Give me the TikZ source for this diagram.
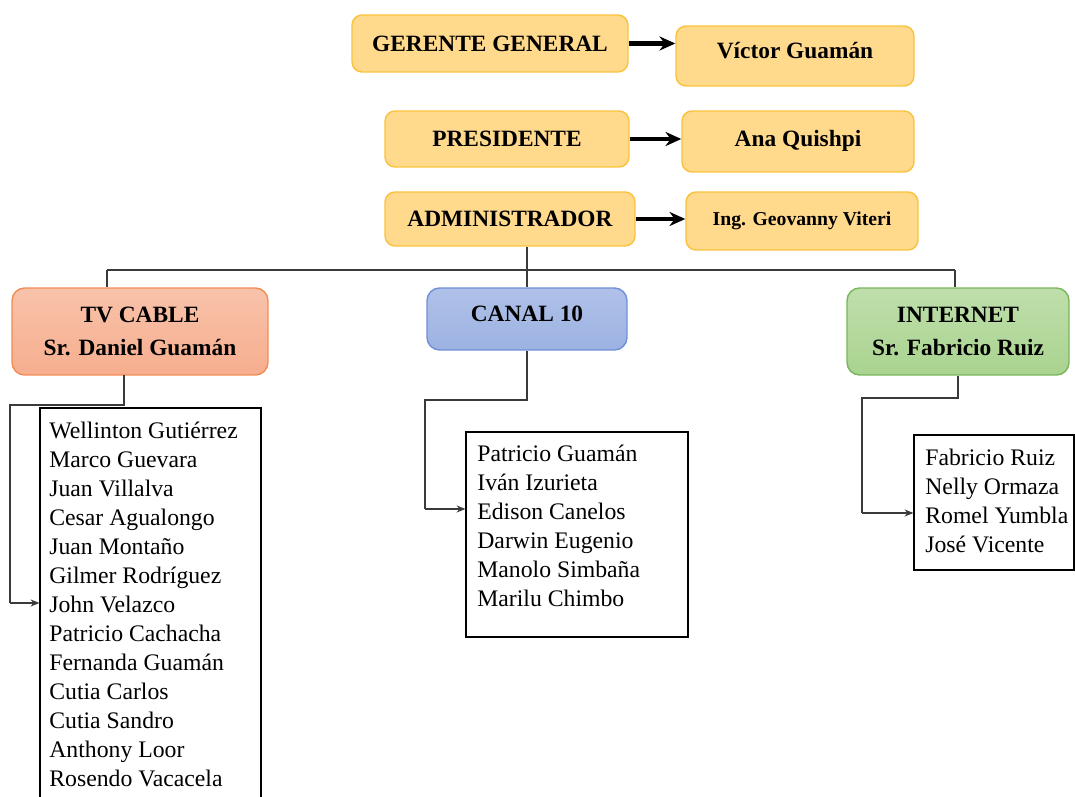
\documentclass[tikz,border=0pt]{standalone}
\usepackage{fontspec}
\setmainfont{Liberation Serif}
\usepackage{xcolor}
\definecolor{goldfill}{HTML}{FFD98C}
\definecolor{goldedge}{HTML}{F9C23C}
\definecolor{salmonfill}{HTML}{F6AE8E}
\definecolor{salmonedge}{HTML}{F28C55}
\definecolor{bluefill}{HTML}{9CB2E2}
\definecolor{blueedge}{HTML}{6F8FD8}
\definecolor{greenfill}{HTML}{A9D38F}
\definecolor{greenedge}{HTML}{78B65A}
\definecolor{linkgray}{HTML}{3A3A3A}
\usetikzlibrary{arrows.meta,positioning}
\tikzset{
  rolebox/.style={rectangle, rounded corners=0.2cm, draw=goldedge, fill=goldfill, line width=0.8pt,
    font=\fontsize{13.3}{16}\selectfont\bfseries, align=center, inner sep=0pt},
  areabox/.style={rectangle, rounded corners=0.25cm, line width=0.8pt,
    font=\fontsize{13.3}{18.7}\selectfont\bfseries, align=center, inner sep=0pt},
  listbox/.style={rectangle, draw=black, line width=0.7pt, inner sep=0pt},
  listtext/.style={font=\fontsize{13.5}{16.5}\selectfont, align=left, inner sep=0pt, anchor=north west},
  bigarrow/.style={-{Stealth[length=9pt,width=8pt]}, line width=2.4pt},
  link/.style={draw=linkgray, line width=0.8pt},
  linkarrow/.style={link, -{Stealth[length=5pt,width=4pt]}}
}
\begin{document}
\begin{tikzpicture}[x=0.02cm, y=-0.02cm]
  \useasboundingbox (0,0) rectangle (1075,797);
  % Direction
  \node[rolebox, minimum width=5.52cm, minimum height=1.14cm] (gg) at (490,43.5) {GERENTE GENERAL};
  \node[rolebox, minimum width=4.76cm, minimum height=1.2cm] (vg) at (795,56) {\raisebox{6pt}{Víctor Guamán}};
  \node[rolebox, minimum width=4.88cm, minimum height=1.12cm] (pr) at (507,139) {PRESIDENTE};
  \node[rolebox, minimum width=4.64cm, minimum height=1.22cm] (aq) at (798,141.5) {\raisebox{3pt}{Ana Quishpi}};
  \node[rolebox, minimum width=5.0cm, minimum height=1.08cm] (adm) at (510,219) {ADMINISTRADOR};
  \node[rolebox, minimum width=4.64cm, minimum height=1.16cm, font=\fontsize{11.2}{14}\selectfont\bfseries] (ig) at (802,221) {Ing. Geovanny Viteri};
  \draw[bigarrow] (gg.east) -- (gg.east -| vg.west);
  \draw[bigarrow] (pr.east) -- (pr.east -| aq.west);
  \draw[bigarrow] (adm.east) -- (adm.east -| ig.west);

  % Areas
  \node[areabox, draw=salmonedge, top color=salmonfill!75!white, bottom color=salmonfill, minimum width=5.12cm, minimum height=1.74cm] (tv) at (140,331.5) {TV CABLE\\Sr. Daniel Guamán};
  \node[areabox, draw=blueedge, top color=bluefill!80!white, bottom color=bluefill, minimum width=4.0cm, minimum height=1.24cm] (c10) at (527,319) {\raisebox{6pt}{CANAL 10}};
  \node[areabox, draw=greenedge, top color=greenfill!75!white, bottom color=greenfill, minimum width=4.44cm, minimum height=1.74cm] (inet) at (958,331.5) {INTERNET\\Sr. Fabricio Ruiz};

  \coordinate (busL) at (107,270);
  \coordinate (busR) at (955,270);
  \draw[link] (busL) -- (busR);
  \draw[link] (c10.north |- adm.south) -- (c10.north);
  \draw[link] (busL) -- (busL |- tv.north);
  \draw[link] (busR) -- (busR |- inet.north);

  % Staff lists
  \node[listbox, minimum width=4.42cm, minimum height=8.04cm] (tvL) at (150.5,609) {};
  \node[listtext] (tvT) at (49,422) {Wellinton Gutiérrez\\Marco Guevara\\Juan Villalva\\Cesar Agualongo\\Juan Montaño\\Gilmer Rodríguez\\John Velazco\\Patricio Cachacha\\Fernanda Guamán\\Cutia Carlos\\Cutia Sandro\\Anthony Loor\\Rosendo Vacacela};
  \node[listbox, minimum width=4.44cm, minimum height=4.1cm] (c10L) at (577,534.5) {};
  \node[listtext] (c10T) at (477,445) {Patricio Guamán\\Iván Izurieta\\Edison Canelos\\Darwin Eugenio\\Manolo Simbaña\\Marilu Chimbo};
  \node[listbox, minimum width=3.2cm, minimum height=2.7cm] (inetL) at (994,502.5) {};
  \node[listtext] (inetT) at (925,449) {Fabricio Ruiz\\Nelly Ormaza\\Romel Yumbla\\José Vicente};

  \coordinate (tvA) at (124,375);
  \coordinate (tvB) at (10,405);
  \coordinate (tvC) at (10,603);
  \draw[link] (tvA) |- (tvB) -- (tvC);
  \draw[linkarrow] (tvC) -- (tvC -| tvL.west);
  \coordinate (c10B) at (425,400);
  \coordinate (c10C) at (425,509);
  \draw[link] (c10.south) |- (c10B) -- (c10C);
  \draw[linkarrow] (c10C) -- (c10C -| c10L.west);
  \coordinate (inetB) at (862,398);
  \coordinate (inetC) at (862,513);
  \draw[link] (inet.south) |- (inetB) -- (inetC);
  \draw[linkarrow] (inetC) -- (inetC -| inetL.west);
\end{tikzpicture}
\end{document}
